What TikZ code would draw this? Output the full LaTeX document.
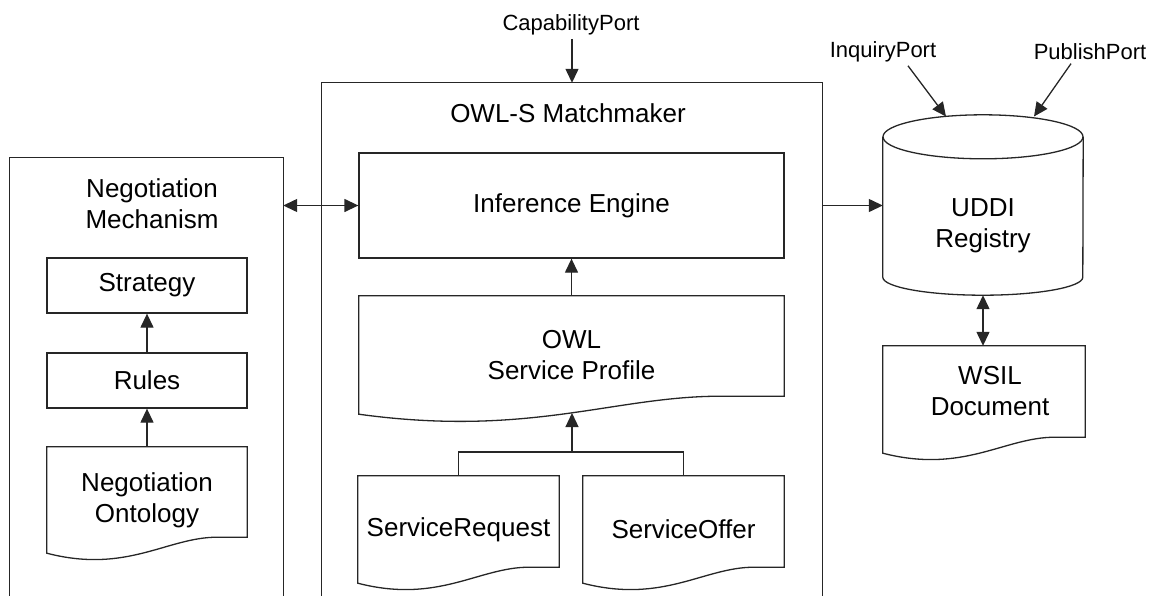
\documentclass[tikz,border=0pt]{standalone}
\usepackage{fontspec}
\setmainfont{Liberation Sans}
\usetikzlibrary{arrows.meta,calc}

% outline of a "document" symbol around a placeholder node:
% #1 = node name, #2 = rise of the wavy bottom edge (pt)
\newcommand\docoutline[2]{%
  \draw[line] ([yshift=#2pt]#1.south east) -- (#1.north east) -- (#1.north west) -- (#1.south west)
    .. controls ($(#1.south west)!0.4!(#1.south east)+(0,{-1.3*#2})$)
            and ($(#1.south west)!0.6!(#1.south east)+(0,#2)$)
    .. ($(#1.south west)!0.85!(#1.south east)+(0,#2)$) -- cycle;}

\begin{document}
\begin{tikzpicture}[x=1pt,y=1pt,
  every node/.style={font=\fontsize{26}{31}\selectfont, text=black, align=center},
  line/.style={draw=black!85, line width=1.3pt},
  box/.style={line, rectangle, inner sep=0pt},
  holder/.style={rectangle, inner sep=0pt},
  port/.style={font=\fontsize{22}{26}\selectfont},
  tip/.tip={Triangle[length=14pt,width=13pt]},
  arr/.style={line, -tip},
  biarr/.style={line, tip-tip}]
\useasboundingbox (0,0) rectangle (1151,-595);

% ---------------- Negotiation Mechanism ----------------
\node[holder, minimum width=273pt, minimum height=442pt] (neg) at (146.5,-379) {};
\draw[line] (neg.south west) -- (neg.north west) -- (neg.north east) -- (neg.south east);
\node (negT) at (152,-204) {Negotiation\\Mechanism};
\node[box, minimum width=200pt, minimum height=55pt] (strat) at (147,-285.5) {Strategy};
\node[box, minimum width=200pt, minimum height=55pt] (rules) at (147,-380.5) {Rules};
\node[holder, minimum width=200pt, minimum height=106pt] (onto) at (147,-500) {Negotiation\\Ontology};
\docoutline{onto}{16}
\draw[arr] (rules.north) -- (strat.south);
\draw[arr] (onto.north) -- (rules.south);

% ---------------- OWL-S Matchmaker ----------------
\node[holder, minimum width=500pt, minimum height=517pt] (mm) at (572,-341.5) {};
\draw[line] (mm.south west) -- (mm.north west) -- (mm.north east) -- (mm.south east);
\node (mmT) at (568,-113) {OWL-S Matchmaker};
\node[port] (cap) at (571,-25) {CapabilityPort};
\draw[arr] (cap.south -| mm.north) -- (mm.north);

\node[box, minimum width=425pt, minimum height=105pt] (inf) at (571.5,-205.5) {Inference Engine};
\node[holder, minimum width=425pt, minimum height=118pt] (prof) at (571.5,-355) {OWL\\Service Profile};
\docoutline{prof}{18}
\draw[arr] (prof.north) -- (inf.south);

\node[holder, minimum width=201pt, minimum height=107pt] (sr) at (458.5,-529.5) {ServiceRequest};
\docoutline{sr}{16}
\node[holder, minimum width=201pt, minimum height=107pt] (so) at (683.5,-529.5) {ServiceOffer};
\docoutline{so}{16}
\coordinate (junc) at (572,-452);
\coordinate (profTip) at (572,-413);
\draw[line] (sr.north) -- (sr.north |- junc) -- (so.north |- junc) -- (so.north);
\draw[arr] (junc) -- (profTip);

\draw[biarr] (neg.east |- inf.west) -- (inf.west);

% ---------------- UDDI Registry ----------------
\node[holder, minimum width=200pt, minimum height=180pt] (uddi) at (983,-205) {};
\draw[line] ([yshift=-22pt]uddi.north west) -- ([yshift=18pt]uddi.south west)
  arc[start angle=180, end angle=360, x radius=100pt, y radius=18pt]
  -- ([yshift=-22pt]uddi.north east);
\draw[line] ([yshift=-22pt]uddi.north) ellipse[x radius=100pt, y radius=22pt];
\node (uddiT) at (983,-226) {UDDI\\Registry};

\node[port] (inq) at (883,-52) {InquiryPort};
\node[port] (pub) at (1090,-52) {PublishPort};
\coordinate (uddiInq) at (946,-116.5);
\coordinate (uddiPub) at (1034,-116.5);
\draw[arr] ([xshift=25pt]inq.south) -- (uddiInq);
\draw[arr] ([xshift=-19pt]pub.south) -- (uddiPub);

\draw[arr] (mm.east |- inf.east) -- (uddi.west |- inf.east);

% ---------------- WSIL Document ----------------
\node[holder, minimum width=202pt, minimum height=107pt] (wsil) at (984,-399.5) {};
\docoutline{wsil}{16}
\node (wsilT) at (990,-391) {WSIL\\Document};
\draw[biarr] (uddi.south) -- (uddi.south |- wsil.north);
\end{tikzpicture}
\end{document}
